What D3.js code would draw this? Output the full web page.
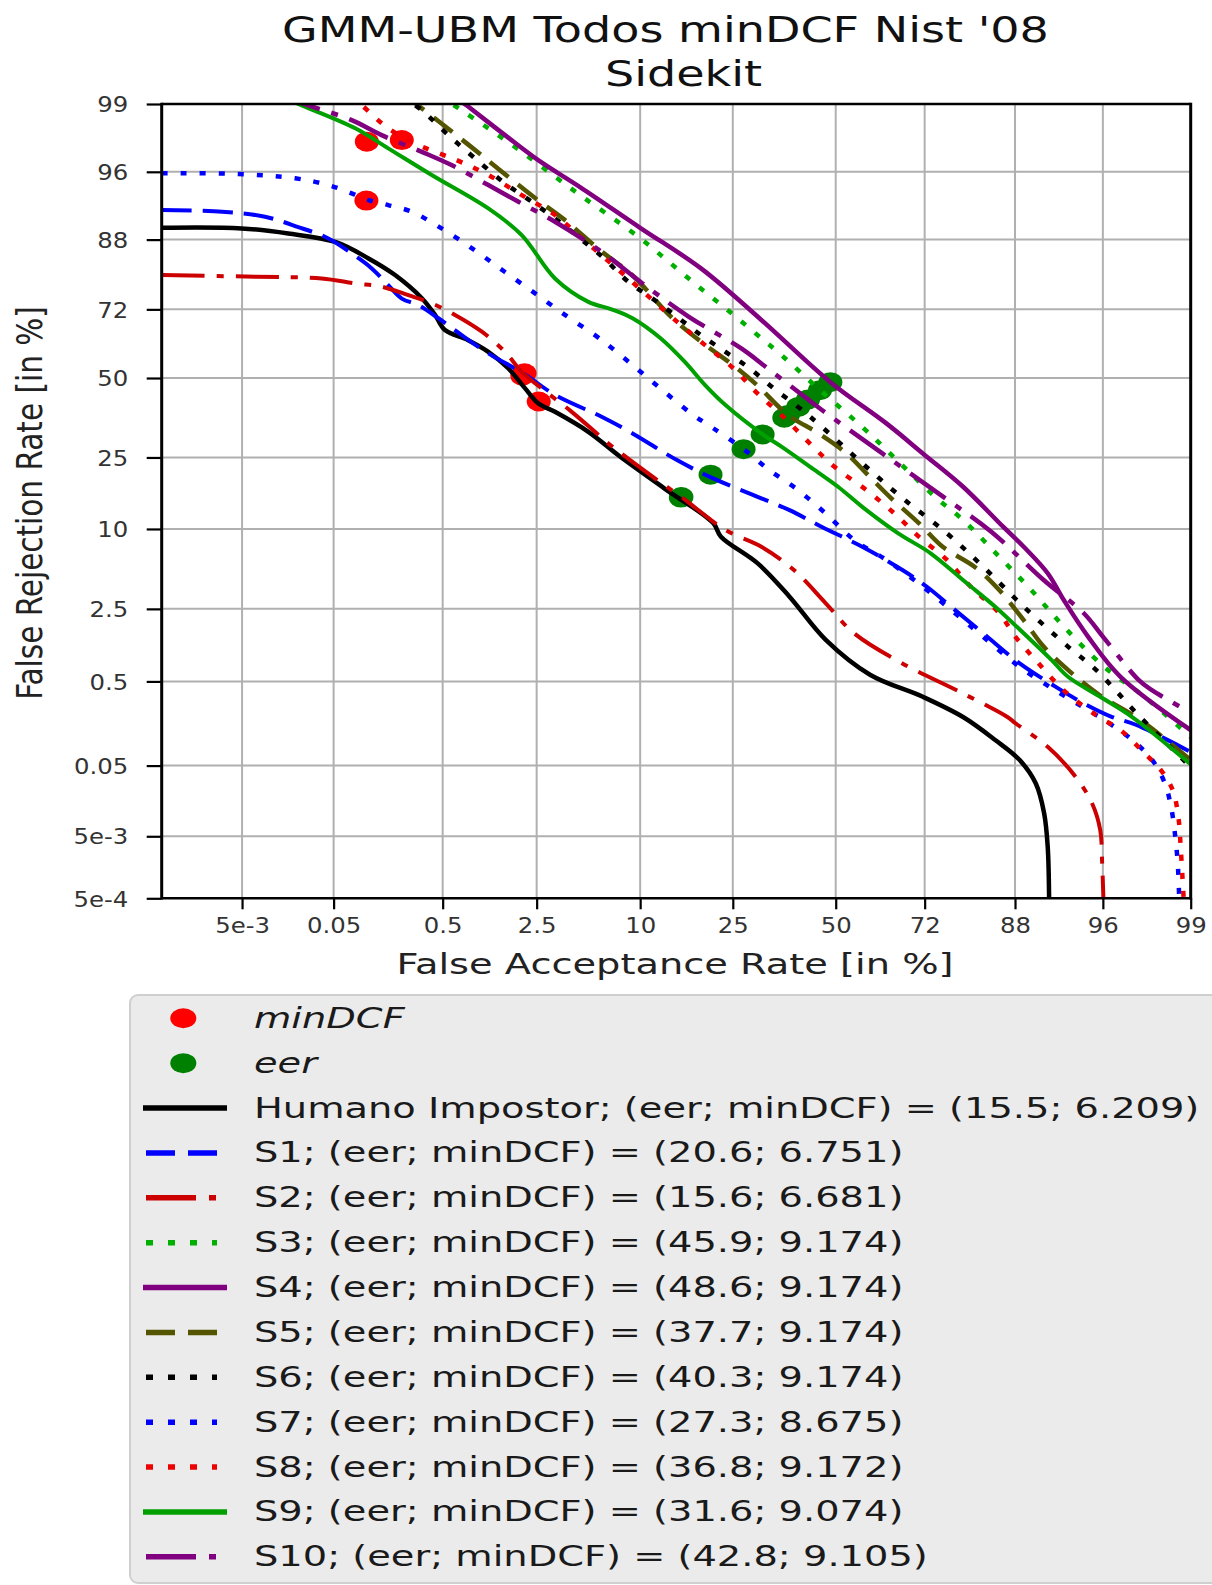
<!DOCTYPE html>
<html><head><meta charset="utf-8">
<script src="https://cdn.jsdelivr.net/npm/d3@7"></script>
<style>html,body{margin:0;padding:0;background:#fff;} svg{display:block;}</style>
</head><body>
<script>
// ---------- DATA (FAR %, FRR %) ----------
const xTickPercents = [5e-3, 0.05, 0.5, 2.5, 10, 25, 50, 72, 88, 96, 99];
const xTickLabels = ["5e-3", "0.05", "0.5", "2.5", "10", "25", "50", "72", "88", "96", "99"];
const yTickPercents = [5e-4, 5e-3, 0.05, 0.5, 2.5, 10, 25, 50, 72, 88, 96, 99];
const yTickLabels = ["5e-4", "5e-3", "0.05", "0.5", "2.5", "10", "25", "50", "72", "88", "96", "99"];
const axisMinPct = 5e-4, axisMaxPct = 99;

const seriesNames = ["Humano Impostor", "S1", "S2", "S3", "S4", "S5", "S6", "S7", "S8", "S9", "S10"];
const eerValues = [15.5, 20.6, 15.6, 45.9, 48.6, 37.7, 40.3, 27.3, 36.8, 31.6, 42.8];
const minDcfValues = [6.209, 6.751, 6.681, 9.174, 9.174, 9.174, 9.174, 8.675, 9.172, 9.074, 9.105];
// visible minDCF operating points (FAR, FRR); null = outside the plotted range
const minDcfPoints = [[2.58, 42.1], [2.0, 50.8], [2.07, 51.6], null, null, null, null, [0.105, 93.4], null, [0.106, 97.76], [0.223, 97.83]];

const humano = [[5e-4,89.9],[4.95e-3,89.8],[0.0167,89.0],[0.052,87.6],[0.11,84.5],[0.194,80.9],[0.334,75.1],[0.432,70.4],[0.522,65.8],[0.80,62.6],[1.14,58.8],[1.59,53.3],[2.09,46.5],[2.56,41.5],[3.29,38.7],[5.25,32.4],[7.9,25.2],[13.1,17.4],[21.1,10.9],[22.6,8.9],[30.4,5.8],[38.1,3.17],[47.4,1.31],[59.0,0.585],[71.6,0.34],[79.8,0.20],[85.2,0.106],[88.6,0.059],[90.5,0.029],[91.4,0.011],[91.76,0.0035],[91.9,5e-4]];
const s1 = [[5e-4,92.3],[2.9e-3,92.1],[0.0092,91.45],[0.0214,90.0],[0.0442,88.2],[0.0757,85.5],[0.118,82.4],[0.168,78.5],[0.223,75.0],[0.312,73.2],[0.461,69.4],[0.712,64.2],[1.14,58.3],[2.07,51.3],[3.29,44.3],[6.25,37.1],[9.15,31.9],[14.9,24.3],[21.1,19.7],[29.5,16.0],[38.1,13.1],[46.4,10.3],[56.9,7.6],[66.9,5.15],[72.5,3.82],[77.5,2.61],[83.3,1.51],[88.6,0.77],[92.5,0.44],[94.8,0.287],[96.5,0.20],[97.56,0.161],[99,0.075]];
const s2 = [[5e-4,80.9],[7.1e-3,80.5],[0.0377,80.1],[0.082,78.9],[0.146,78.1],[0.255,75.9],[0.405,73.7],[0.63,70.4],[1.02,65.3],[1.51,58.8],[1.98,52.1],[2.70,46.5],[4.18,38.7],[5.73,32.4],[6.8,28.95],[11.5,20.1],[15.6,15.6],[23.5,9.85],[31.3,7.6],[39.2,5.15],[47.4,2.79],[54.8,1.51],[66.9,0.77],[79.8,0.37],[86.97,0.20],[88.06,0.169],[91.76,0.087],[94.2,0.0356],[95.35,0.0153],[95.85,6.2e-3],[95.96,1.9e-3],[96.03,5e-4]];
const s3 = [[0.461,99.18],[0.67,98.9],[1.14,98.3],[1.98,97.26],[3.29,95.63],[4.69,93.98],[6.8,91.68],[10.04,88.2],[13.7,83.8],[18.1,78.5],[23.5,72.3],[29.5,65.3],[36.1,57.7],[45.9,45.9],[56.9,33.9],[63.0,27.1],[68.8,20.9],[74.2,15.7],[79.8,11.4],[85.8,6.46],[90.0,3.59],[93.25,1.74],[96.07,0.71],[97.85,0.34],[99,0.115]];
const s4 = [[0.61,99.18],[0.80,98.94],[1.51,98.04],[2.56,96.78],[4.69,94.75],[10.04,89.85],[18.86,82.4],[31.3,68.9],[48.6,48.6],[63.0,35.0],[71.6,26.1],[79.8,17.8],[86.4,10.3],[89.1,7.6],[91.76,4.87],[93.25,2.97],[95.1,1.40],[96.9,0.56],[99,0.14]];
const s5 = [[0.238,99.18],[0.432,98.62],[0.83,97.55],[1.39,96.12],[2.44,93.67],[3.80,91.0],[6.12,86.1],[9.1,80.9],[14.2,69.5],[18.86,62.1],[25.0,54.4],[30.3,47.6],[37.7,37.7],[45.4,32.0],[52.7,26.2],[58.9,20.0],[63.9,15.6],[70.7,10.9],[75.9,7.57],[81.9,5.43],[85.8,3.59],[89.1,1.99],[91.35,1.13],[93.6,0.66],[95.8,0.356],[97.7,0.185],[99,0.059]];
const s6 = [[0.217,99.18],[0.334,98.85],[0.556,98.04],[0.90,96.9],[1.51,95.08],[2.32,93.27],[3.62,90.54],[5.25,87.0],[6.46,84.5],[8.7,79.3],[11.5,75.0],[14.9,69.85],[18.86,64.2],[23.5,58.8],[28.6,53.3],[34.2,46.5],[40.3,40.3],[46.4,33.9],[56.9,23.45],[66.9,15.4],[76.7,9.36],[83.3,5.46],[89.1,2.61],[93.6,1.13],[95.6,0.66],[97.7,0.20],[99,0.048]];
const s7 = [[5e-4,95.9],[4.5e-3,95.84],[0.0198,95.5],[0.0442,94.93],[0.0757,94.15],[0.11,93.46],[0.168,92.9],[0.273,92.1],[0.49,89.8],[0.90,86.1],[1.51,81.6],[2.44,76.4],[3.80,70.4],[5.73,64.2],[6.8,61.0],[9.57,53.3],[13.1,45.3],[17.5,37.7],[21.1,33.5],[27.3,27.3],[33.2,21.7],[40.2,17.1],[47.4,12.5],[54.8,8.46],[63.0,6.12],[71.6,3.82],[78.3,2.29],[83.3,1.40],[88.6,0.71],[92.5,0.40],[95.1,0.24],[96.07,0.185],[97.4,0.106],[98.1,0.059],[98.45,0.029],[98.6,0.0137],[98.68,6.2e-3],[98.75,1.9e-3],[98.78,5e-4]];
const s8 = [[0.0734,99.18],[0.095,98.97],[0.168,98.3],[0.312,97.6],[0.65,96.78],[1.14,95.76],[1.98,93.98],[3.29,91.68],[4.69,88.5],[8.3,80.9],[14.9,68.4],[19.6,61.0],[25.1,53.3],[30.4,44.8],[36.8,36.8],[43.25,28.95],[49.6,22.6],[57.9,17.1],[65.0,12.5],[70.7,8.9],[76.7,6.12],[81.2,3.82],[85.8,2.29],[88.06,1.40],[90.5,0.83],[93.25,0.40],[95.6,0.21],[96.9,0.14],[97.85,0.072],[98.34,0.044],[98.64,0.0234],[98.77,8.8e-3],[98.81,3.5e-3],[98.85,1.0e-3],[98.87,5e-4]];
const s9 = [[0.013,99.18],[0.0233,98.97],[0.082,98.3],[0.168,97.44],[0.405,95.76],[1.14,92.5],[1.98,88.75],[3.29,80.1],[5.25,74.1],[7.1,72.0],[9.15,69.4],[12.55,63.2],[16.1,55.5],[19.6,47.6],[23.5,40.9],[31.6,31.6],[36.1,28.0],[43.25,22.6],[50.6,17.8],[56.9,13.7],[65.9,9.36],[73.3,6.84],[80.5,4.07],[85.2,2.61],[89.1,1.51],[92.15,0.83],[93.6,0.56],[95.85,0.34],[97.4,0.20],[99,0.052]];
const s10 = [[0.0132,99.18],[0.0274,98.97],[0.0757,98.57],[0.146,98.04],[0.334,97.26],[0.59,96.47],[1.14,94.93],[1.88,93.27],[3.29,90.77],[6.25,85.8],[10.27,78.9],[16.8,69.85],[26.8,59.9],[32.3,53.8],[42.8,42.8],[46.4,39.3],[62.0,26.1],[75.9,15.7],[84.6,9.6],[91.35,4.32],[94.8,2.29],[96.07,1.36],[97.64,0.52],[98.1,0.40],[98.97,0.23]];
const seriesData = [humano, s1, s2, s3, s4, s5, s6, s7, s8, s9, s10];

// ---------- STYLES ----------
const styles = [
  {color:"#000000", width:4.5, dash:null,            legDash:null},
  {color:"#0000ff", width:4,   dash:"30,11",         legDash:"29,13"},
  {color:"#cc0000", width:4,   dash:"43,12,7,12",    legDash:"50,13,7,13"},
  {color:"#00b000", width:4.5, dash:"6,12",          legDash:"7,15"},
  {color:"#800080", width:4.5, dash:null,            legDash:null},
  {color:"#555500", width:4.5, dash:"24,12",         legDash:"29,13"},
  {color:"#000000", width:4.5, dash:"6,12",          legDash:"7,15"},
  {color:"#0000ff", width:4.5, dash:"6,13",          legDash:"7,15"},
  {color:"#ee0000", width:4.5, dash:"6,12",          legDash:"7,15"},
  {color:"#00a000", width:4,   dash:null,            legDash:null},
  {color:"#800080", width:4.5, dash:"43,12,7,12",    legDash:"50,13,7,13"}
];
const FONT = "'DejaVu Sans', sans-serif";

// ---------- probit ----------
function probit(p){
  const a=[-3.969683028665376e+01,2.209460984245205e+02,-2.759285104469687e+02,1.383577518672690e+02,-3.066479806614716e+01,2.506628277459239e+00];
  const b=[-5.447609879822406e+01,1.615858368580409e+02,-1.556989798598866e+02,6.680131188771972e+01,-1.328068155288572e+01];
  const c=[-7.784894002430293e-03,-3.223964580411365e-01,-2.400758277161838e+00,-2.549732539343734e+00,4.374664141464968e+00,2.938163982698783e+00];
  const d=[7.784695709041462e-03,3.224671290700398e-01,2.445134137142996e+00,3.754408661907416e+00];
  const pl=0.02425, ph=1-pl; let q,r;
  if(p<pl){q=Math.sqrt(-2*Math.log(p));return (((((c[0]*q+c[1])*q+c[2])*q+c[3])*q+c[4])*q+c[5])/((((d[0]*q+d[1])*q+d[2])*q+d[3])*q+1);}
  if(p<=ph){q=p-0.5;r=q*q;return (((((a[0]*r+a[1])*r+a[2])*r+a[3])*r+a[4])*r+a[5])*q/(((((b[0]*r+b[1])*r+b[2])*r+b[3])*r+b[4])*r+1);}
  q=Math.sqrt(-2*Math.log(1-p));return -(((((c[0]*q+c[1])*q+c[2])*q+c[3])*q+c[4])*q+c[5])/((((d[0]*q+d[1])*q+d[2])*q+d[3])*q+1);
}
const pz = pct => probit(pct/100);

// ---------- LAYOUT ----------
const W=1212, H=1585;
const L=161.7, R=1190.7, T=104, B=898.3;
const xs = d3.scaleLinear().domain([pz(axisMinPct), pz(axisMaxPct)]).range([L, R]);
const ys = d3.scaleLinear().domain([pz(axisMinPct), pz(axisMaxPct)]).range([B, T]);
const X = pct => xs(pz(pct)), Y = pct => ys(pz(pct));

const svg = d3.select("body").append("svg").attr("width",W).attr("height",H);
svg.append("rect").attr("width",W).attr("height",H).attr("fill","#fff");
svg.append("defs").append("clipPath").attr("id","clip")
  .append("rect").attr("x",L).attr("y",T).attr("width",R-L).attr("height",B-T);

// grid
const grid = svg.append("g");
grid.selectAll("line.vx").data(xTickPercents).join("line")
  .attr("x1",d=>X(d)).attr("x2",d=>X(d)).attr("y1",T).attr("y2",B)
  .attr("stroke","#b0b0b0").attr("stroke-width",2);
grid.selectAll("line.hy").data(yTickPercents.slice(1)).join("line")
  .attr("y1",d=>Y(d)).attr("y2",d=>Y(d)).attr("x1",L).attr("x2",R)
  .attr("stroke","#b0b0b0").attr("stroke-width",2);

const plot = svg.append("g").attr("clip-path","url(#clip)");
// markers (under the curves)
seriesData.forEach((_,i)=>{
  const m = minDcfPoints[i];
  if(m) plot.append("ellipse").attr("cx",X(m[0])).attr("cy",Y(m[1])).attr("rx",12).attr("ry",10).attr("fill","#ff0000");
});
eerValues.forEach(e=>{
  plot.append("ellipse").attr("cx",X(e)).attr("cy",Y(e)).attr("rx",12).attr("ry",10).attr("fill","#008000");
});
// curves
const line = d3.line().x(d=>X(d[0])).y(d=>Y(d[1])).curve(d3.curveCatmullRom.alpha(0.5));
seriesData.forEach((data,i)=>{
  const st = styles[i];
  const p = plot.append("path").attr("d",line(data)).attr("fill","none")
    .attr("stroke",st.color).attr("stroke-width",st.width)
    .attr("stroke-linejoin","round").attr("stroke-linecap","butt");
  if(st.dash) p.attr("stroke-dasharray",st.dash);
});

// axes
const gx = svg.append("g").attr("transform",`translate(0,${B})`)
  .call(d3.axisBottom(xs).tickValues(xTickPercents.map(pz)).tickFormat((d,i)=>xTickLabels[i]).tickSize(11).tickSizeOuter(0));
gx.attr("font-family",FONT).attr("font-size",21);
gx.select(".domain").remove();
gx.selectAll(".tick line").attr("stroke","#000").attr("stroke-width",2.2);
gx.selectAll(".tick text").attr("y",null).attr("dy",null).attr("fill","#333")
  .attr("transform","translate(0,35) scale(1.16,1)");

const gy = svg.append("g").attr("transform",`translate(${L},0)`)
  .call(d3.axisLeft(ys).tickValues(yTickPercents.map(pz)).tickFormat((d,i)=>yTickLabels[i]).tickSize(15).tickSizeOuter(0));
gy.attr("font-family",FONT).attr("font-size",21);
gy.select(".domain").remove();
gy.selectAll(".tick line").attr("stroke","#000").attr("stroke-width",2.2);
gy.selectAll(".tick text").attr("x",null).attr("dy",null).attr("fill","#333")
  .attr("transform","translate(-33.4,7.7) scale(1.16,1)");

// spines
const sp = svg.append("g").attr("stroke","#000");
sp.append("line").attr("x1",L).attr("x2",L).attr("y1",T-1.2).attr("y2",B+1.2).attr("stroke-width",3);
sp.append("line").attr("x1",R).attr("x2",R).attr("y1",T-1.2).attr("y2",B+1.2).attr("stroke-width",3);
sp.append("line").attr("x1",L).attr("x2",R).attr("y1",T).attr("y2",T).attr("stroke-width",2.5);
sp.append("line").attr("x1",L).attr("x2",R).attr("y1",B).attr("y2",B).attr("stroke-width",2.5);

// title
svg.append("text").attr("transform","translate(665.5,41.7) scale(1.28,1)").attr("text-anchor","middle")
  .attr("font-family",FONT).attr("font-size",36).attr("fill","#111").text("GMM-UBM Todos minDCF Nist '08");
svg.append("text").attr("transform","translate(683.5,86) scale(1.28,1)").attr("text-anchor","middle")
  .attr("font-family",FONT).attr("font-size",36).attr("fill","#111").text("Sidekit");

// axis labels
svg.append("text").attr("transform","translate(675,974) scale(1.345,1)").attr("text-anchor","middle")
  .attr("font-family",FONT).attr("font-size",28.5).attr("fill","#222").text("False Acceptance Rate [in %]");
svg.append("text").attr("transform","translate(42,503) scale(1.2,1) rotate(-90)").attr("text-anchor","middle")
  .attr("font-family",FONT).attr("font-size",29.5).attr("fill","#222").text("False Rejection Rate [in %]");

// legend
const lg = svg.append("g");
lg.append("rect").attr("x",130).attr("y",995).attr("width",1200).attr("height",588).attr("rx",8)
  .attr("fill","#ebebeb").attr("stroke","#cfcfcf").attr("stroke-width",2);
const rowY = i => 1018.3 + i*44.88;
const legTxt = (i, s, italic) => lg.append("text")
  .attr("transform",`translate(254,${rowY(i)+9.5}) scale(1.37,1)`)
  .attr("font-family",FONT).attr("font-size",28).attr("fill","#1a1a1a")
  .attr("font-style", italic ? "italic" : null).text(s);
lg.append("ellipse").attr("cx",183.3).attr("cy",rowY(0)).attr("rx",13).attr("ry",10).attr("fill","#ff0000");
legTxt(0,"minDCF",true);
lg.append("ellipse").attr("cx",183.3).attr("cy",rowY(1)).attr("rx",13).attr("ry",10).attr("fill","#008000");
legTxt(1,"eer",true);
seriesNames.forEach((n,i)=>{
  const st = styles[i], r = i+2, yy = rowY(r);
  const h = lg.append("line").attr("y1",yy).attr("y2",yy).attr("stroke",st.color).attr("stroke-width",5.5);
  if(st.legDash){ h.attr("x1",146).attr("x2",217).attr("stroke-dasharray",st.legDash); }
  else { h.attr("x1",143).attr("x2",227); }
  legTxt(r, `${n}; (eer; minDCF) = (${eerValues[i].toFixed(1)}; ${minDcfValues[i].toFixed(3)})`, false);
});
</script>
</body></html>
